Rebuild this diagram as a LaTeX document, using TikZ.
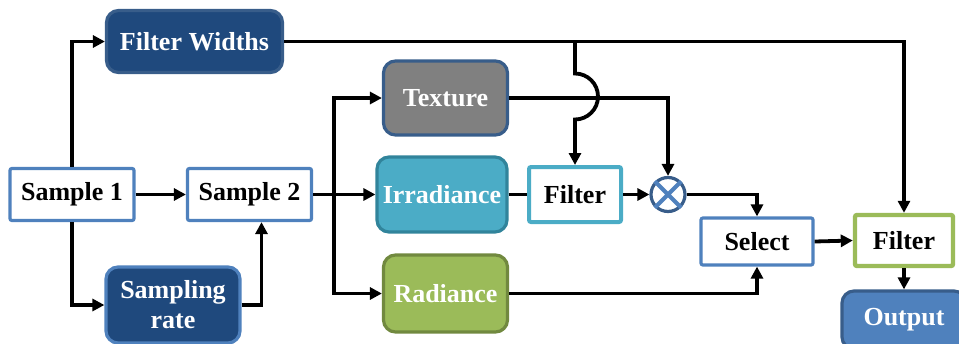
\documentclass[tikz,border=0pt]{standalone}
\usepackage{fontspec}
\setmainfont{Liberation Serif}
\usetikzlibrary{arrows.meta}
\definecolor{navy}{RGB}{31,73,125}
\definecolor{navyline}{RGB}{56,93,138}
\definecolor{boxblue}{RGB}{79,129,189}
\definecolor{texfill}{RGB}{128,128,128}
\definecolor{irrfill}{RGB}{75,172,198}
\definecolor{irrline}{RGB}{49,132,155}
\definecolor{radfill}{RGB}{155,187,89}
\definecolor{radline}{RGB}{113,137,63}
\begin{document}
\begin{tikzpicture}[x=0.5pt,y=-0.5pt,
        font=\fontsize{13}{15}\selectfont\bfseries,
        arrow/.style = {line width=1.9pt,-{Triangle[length=6pt,width=6pt]}},
        wire/.style = {line width=1.9pt},
        whitebox/.style = {draw=boxblue,line width=1.6pt,fill=white,rounded corners=1pt,inner sep=0pt},
        colbox/.style = {line width=1.6pt,rounded corners=6pt,text=white,inner sep=0pt}]
            \useasboundingbox (0,0) rectangle (959,343);

            \node[colbox,fill=navy,draw=navyline,minimum width=88pt,minimum height=31pt] (fw) at (194.5,41.5) {Filter Widths};
            \node[whitebox,minimum width=62pt,minimum height=26pt] (s1) at (72,194.5) {Sample 1};
            \node[whitebox,minimum width=62pt,minimum height=26pt] (s2) at (249.5,194.5) {Sample 2};
            \node[colbox,fill=navy,draw=boxblue,minimum width=67pt,minimum height=38pt,align=center] (rate) at (173,305) {Sampling\\rate};
            \node[colbox,fill=texfill,draw=navyline,minimum width=62pt,minimum height=37pt] (tex) at (445.5,98) {Texture};
            \node[colbox,fill=irrfill,draw=irrline,minimum width=65pt,minimum height=37.5pt] (irr) at (442,194.5) {Irradiance};
            \node[colbox,fill=radfill,draw=radline,minimum width=62pt,minimum height=38.5pt] (rad) at (445.5,293.5) {Radiance};
            \node[whitebox,draw=irrfill,line width=2pt,minimum width=46pt,minimum height=27.5pt] (filt1) at (575,194.5) {Filter};
            \node[circle,draw=navyline,fill=white,line width=1.6pt,minimum size=17pt,inner sep=0pt] (mult) at (668,194.5) {};
            \node[whitebox,minimum width=56pt,minimum height=23.5pt] (sel) at (757,241.5) {Select};
            \node[whitebox,draw=radfill,line width=2.2pt,minimum width=49pt,minimum height=25.5pt] (filt2) at (904,240.5) {Filter};
            \node[colbox,fill=boxblue,draw=navyline,minimum width=62pt,minimum height=29pt] (out) at (904,320) {Output};

            \draw[boxblue,line width=2pt] (mult.45) -- (mult.225) (mult.135) -- (mult.315);

            \coordinate (split) at (334,194.5);
            \coordinate (jump) at (filt1.north |- fw.east);

            \draw[arrow] (s1.north) |- (fw.west);
            \draw[arrow] (s1.east) -- (s2.west);
            \draw[arrow] (s1.south) |- (rate.west);
            \draw[arrow] (rate.east) -| ([xshift=6pt]s2.south);
            \draw[wire] (s2.east) -- (split);
            \draw[arrow] (split) |- (tex.west);
            \draw[arrow] (split) -- (irr.west);
            \draw[arrow] (split) |- (rad.west);
            \draw[wire] (irr.east) -- (filt1.west);
            \draw[arrow] (tex.east) -| (mult.north);
            \draw[arrow] (fw.east) -| (filt2.north);
            \draw[arrow] (jump) -- ++(0,32) arc[start angle=90,end angle=-90,radius=11.5pt] -- (filt1.north);
            \draw[arrow] (filt1.east) -- (mult.west);
            \draw[arrow] (mult.east) -| (sel.north);
            \draw[arrow] (rad.east) -| (sel.south);
            \draw[arrow] (sel.east) -- (filt2.west);
            \draw[arrow] (filt2.south) -- (out.north);
        \end{tikzpicture}
\end{document}
